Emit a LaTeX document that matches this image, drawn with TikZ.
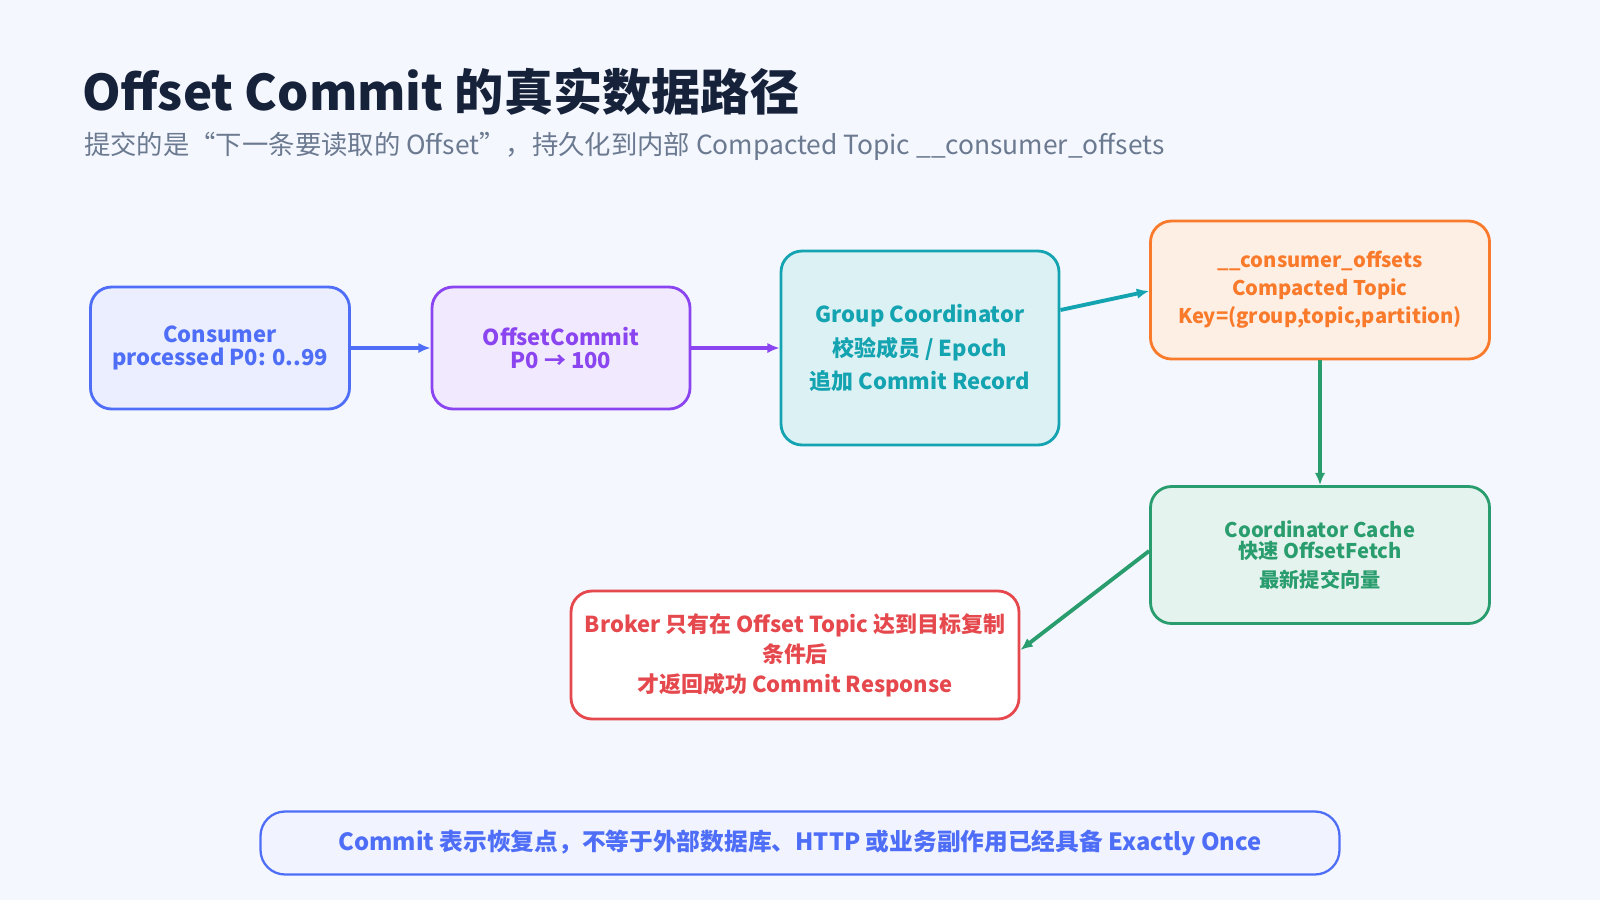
\documentclass[tikz,border=0pt]{standalone}
\usepackage{fontspec}
\setmainfont{Noto Sans CJK SC}
\usetikzlibrary{arrows.meta,positioning}
\definecolor{bgc}{HTML}{F4F7FD}
\definecolor{titc}{HTML}{16213A}
\definecolor{subc}{HTML}{6B7A90}
\definecolor{bluc}{HTML}{4F6EF7}
\definecolor{purc}{HTML}{8B45F0}
\definecolor{teac}{HTML}{14A3B0}
\definecolor{orac}{HTML}{F97A2A}
\definecolor{grec}{HTML}{2A9D6E}
\definecolor{redc}{HTML}{E5484D}
\tikzset{
  box/.style={draw, rounded corners=12pt, line width=1.6pt, align=center,
    font=\fontsize{12.5}{15}\selectfont\bfseries, inner sep=0pt},
  small/.style={font=\fontsize{11.5}{14}\selectfont\bfseries},
  link/.style={-{Latex[length=7pt,width=6pt]}, line width=2.2pt}
}
\begin{document}
\begin{tikzpicture}[x=0.02cm, y=-0.02cm]
  \fill[bgc] (0,0) rectangle (1600,900);
  \useasboundingbox (0,0) rectangle (1600,900);
  \node[anchor=west, text=titc, font=\fontsize{28}{32}\selectfont\bfseries] (title) at (76,92) {Offset Commit 的真实数据路径};
  \node[anchor=west, text=subc, font=\fontsize{15}{18}\selectfont] (sub) at (78,146) {提交的是“下一条要读取的 Offset”，持久化到内部 Compacted Topic \_\_consumer\_offsets};

  % boxes
  \node[box, draw=bluc, fill=bluc!12, text=bluc, minimum width=259*0.02cm, minimum height=122*0.02cm] (cons) at (220,348) {Consumer\\[-2pt]processed P0: 0..99};
  \node[box, draw=purc, fill=purc!12, text=purc, minimum width=258*0.02cm, minimum height=122*0.02cm] (commit) at (561,348) {OffsetCommit\\[-2pt]P0 → 100};
  \node[box, draw=teac, fill=teac!15, text=teac, minimum width=278*0.02cm, minimum height=194*0.02cm] (coord) at (920,348) {Group Coordinator\\[4pt]校验成员 / Epoch\\[4pt]追加 Commit Record};
  \node[box, small, draw=orac, fill=orac!12, text=orac, minimum width=339*0.02cm, minimum height=138*0.02cm] (topic) at (1320,290) {\_\_consumer\_offsets\\[2pt]Compacted Topic\\[2pt]Key=(group,topic,partition)};
  \node[box, small, draw=grec, fill=grec!12, text=grec, minimum width=339*0.02cm, minimum height=137*0.02cm] (cache) at (1320,555) {Coordinator Cache\\[-2pt]快速 OffsetFetch\\[2pt]最新提交向量};
  \node[box, draw=redc, fill=white, text=redc, minimum width=448*0.02cm, minimum height=128*0.02cm] (resp) at (795,655) {Broker 只有在 Offset Topic 达到目标复制\\[2pt]条件后\\[2pt]才返回成功 Commit Response};
  \node[box, draw=bluc, fill=bluc!8, text=bluc, rounded corners=14pt, line width=1.3pt, font=\fontsize{13.5}{16}\selectfont\bfseries, minimum width=1079*0.02cm, minimum height=63*0.02cm] (note) at (800,843) {Commit 表示恢复点，不等于外部数据库、HTTP 或业务副作用已经具备 Exactly Once};

  % connectors
  \draw[link, bluc] (cons) -- (commit);
  \draw[link, purc] (commit) -- (coord);
  \draw[link, teac] (coord.east |- 0,310) -- (topic.west |- 0,291);
  \draw[link, grec] (topic) -- (cache);
  \draw[link, grec] (cache.west |- 0,551) -- (resp.east |- 0,650);
\end{tikzpicture}
\end{document}
